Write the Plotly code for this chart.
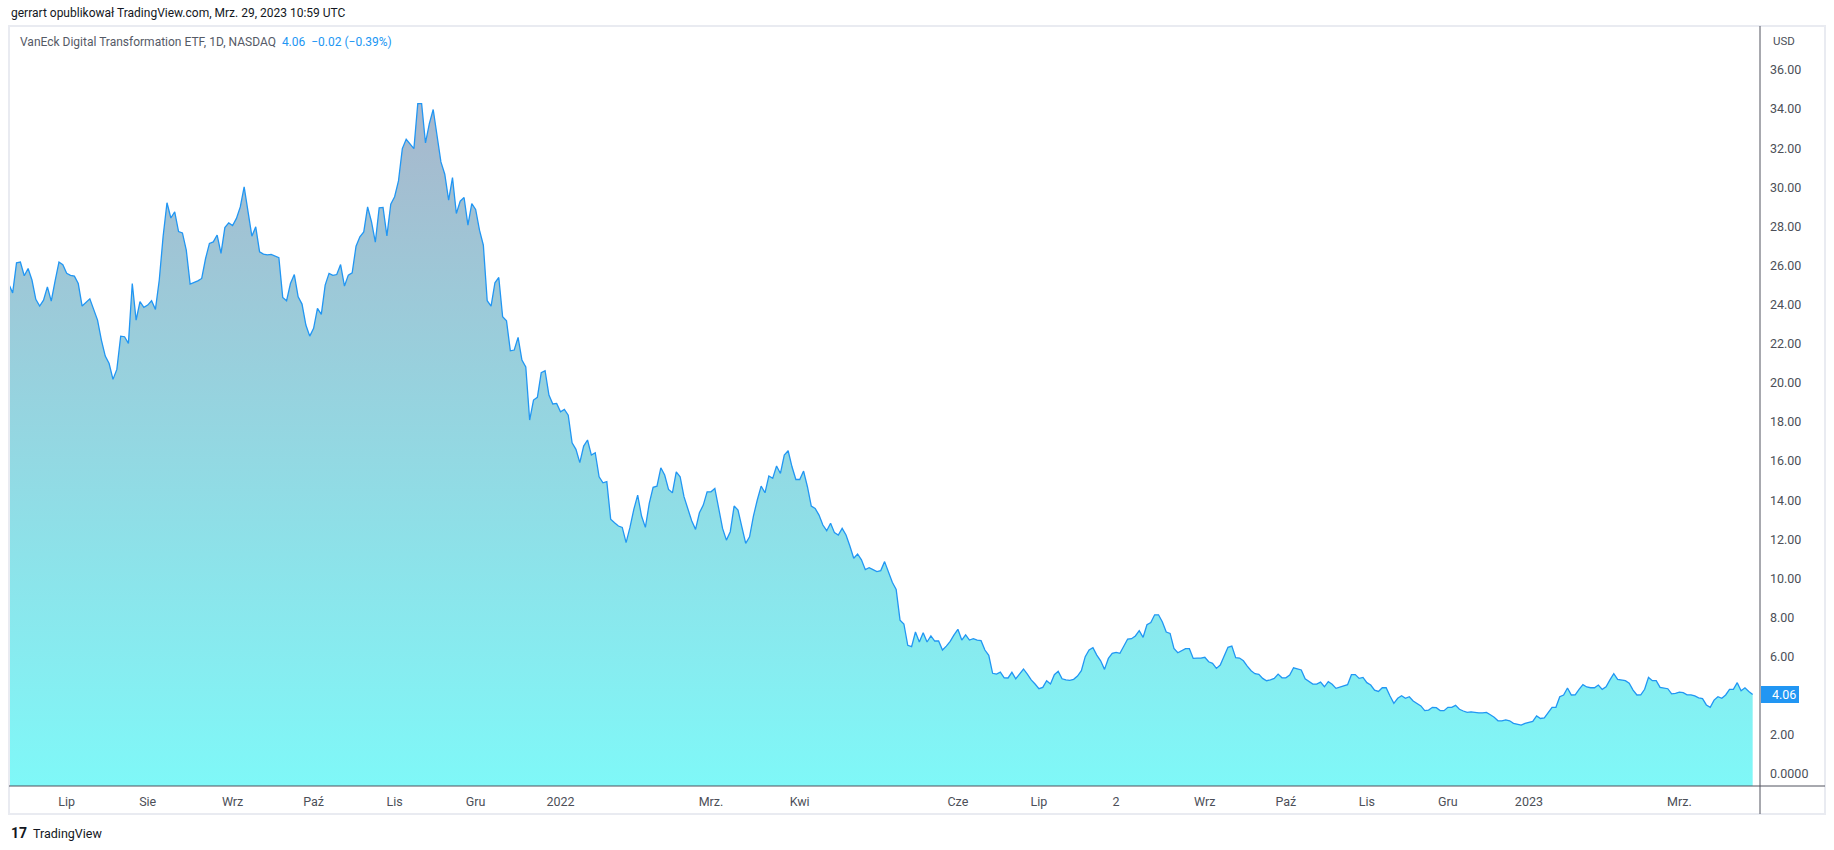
import pandas as pd
import plotly.graph_objects as go

# ---------------- data ----------------
# trading-day number since 2021-06-10 and closing price (USD)
day = [0, 1, 2, 3, 4, 5, 6, 7, 8, 9, 10, 11, 12, 13, 14, 15, 16, 17, 18, 19, 21, 22, 23, 24, 25, 26, 27, 28, 29,
       30, 31, 32, 33, 34, 35, 36, 37, 38, 39, 40, 41, 42, 43, 44, 45, 46, 47, 49, 50, 51, 52, 53, 54, 55, 56, 57,
       58, 59, 60, 61, 62, 63, 64, 65, 66, 67, 68, 69, 70, 71, 72, 73, 74, 75, 76, 77, 78, 79, 80, 81, 82, 83, 84,
       85, 86, 87, 88, 89, 90, 91, 92, 93, 94, 95, 96, 97, 98, 99, 100, 101, 102, 103, 104, 105, 106, 107, 108,
       109, 110, 111, 112, 113, 114, 115, 116, 117, 118, 119, 120, 121, 122, 123, 124, 125, 126, 127, 128, 129,
       130, 131, 132, 133, 134, 135, 136, 137, 138, 139, 140, 141, 142, 143, 144, 145, 146, 147, 148, 149, 150,
       151, 152, 153, 154, 155, 156, 157, 158, 159, 160, 161, 162, 163, 164, 165, 166, 167, 168, 169, 170, 171,
       172, 173, 174, 175, 176, 177, 178, 179, 180, 181, 182, 183, 184, 185, 186, 187, 188, 189, 190, 191, 192,
       193, 194, 195, 196, 197, 198, 199, 200, 201, 202, 203, 204, 205, 206, 207, 208, 209, 210, 211, 212, 213,
       214, 215, 216, 217, 218, 219, 220, 221, 222, 223, 224, 225, 226, 227, 229, 230, 231, 232, 233, 234, 235,
       236, 237, 238, 239, 240, 241, 242, 243, 244, 245, 246, 247, 248, 249, 250, 251, 252, 253, 254, 255, 256,
       257, 258, 259, 260, 261, 262, 263, 264, 265, 266, 267, 268, 269, 270, 271, 272, 273, 274, 275, 276, 277,
       278, 279, 280, 281, 282, 283, 284, 285, 286, 287, 288, 289, 290, 291, 292, 293, 294, 295, 296, 297, 298,
       299, 300, 301, 302, 303, 304, 305, 306, 307, 308, 309, 310, 311, 312, 313, 314, 315, 316, 317, 318, 319,
       320, 321, 322, 323, 324, 325, 326, 327, 328, 329, 330, 331, 332, 333, 334, 335, 336, 337, 338, 339, 340,
       341, 342, 343, 344, 346, 347, 348, 349, 350, 351, 352, 353, 354, 355, 356, 357, 358, 359, 360, 361, 362,
       363, 364, 365, 366, 367, 368, 369, 370, 371, 372, 373, 374, 375, 376, 377, 378, 379, 380, 381, 382, 383,
       384, 385, 386, 387, 388, 389, 390, 392, 393, 394, 395, 396, 397, 398, 399, 400, 401, 402, 403, 404, 405,
       406, 407, 408, 409, 410, 411, 412, 413, 414, 415, 416, 417, 418, 419, 420, 421, 422, 423, 424, 425, 426,
       427, 428, 429, 430, 431, 432, 433, 434, 435, 436, 437, 438, 439, 440, 441, 442, 443, 444, 445, 446, 447,
       448, 449, 450, 451, 452]

price = [25.05, 24.6, 26.14, 26.18, 25.48, 25.85, 25.26, 24.27, 23.93, 24.23, 24.91, 24.18, 25.22, 26.18, 26.04,
         25.6, 25.5, 25.46, 25.08, 23.93, 24.3, 23.72, 23.21, 22.19, 21.37, 20.99, 20.18, 20.69, 22.39, 22.36,
         22.02, 25.08, 23.21, 24.15, 23.86, 23.98, 24.2, 23.76, 25.26, 27.5, 29.21, 28.43, 28.75, 27.74, 27.67,
         26.79, 25.05, 25.22, 25.34, 26.36, 27.13, 27.21, 27.56, 26.62, 27.94, 28.18, 28.05, 28.41, 29.0, 30.02,
         28.66, 27.5, 27.98, 26.7, 26.59, 26.55, 26.57, 26.5, 26.4, 24.37, 24.2, 25.08, 25.54, 24.4, 24.03, 22.96,
         22.39, 22.79, 23.81, 23.5, 25.0, 25.6, 25.5, 25.54, 26.05, 24.95, 25.51, 25.63, 26.99, 27.47, 27.72,
         29.0, 28.24, 27.2, 28.95, 28.97, 27.52, 29.14, 29.52, 30.33, 31.98, 32.46, 32.24, 31.98, 34.28, 34.28,
         32.27, 33.26, 33.98, 32.75, 31.3, 30.67, 29.35, 30.5, 28.66, 29.29, 29.48, 28.07, 29.17, 28.87, 27.81,
         27.04, 24.2, 23.93, 25.12, 25.39, 23.38, 23.17, 21.64, 21.68, 22.33, 21.17, 20.82, 18.1, 19.12, 19.26,
         20.52, 20.62, 19.38, 18.92, 18.95, 18.52, 18.64, 18.35, 16.94, 16.6, 15.92, 16.77, 17.08, 16.31, 16.43,
         15.2, 14.89, 14.95, 13.03, 12.85, 12.68, 12.61, 11.83, 12.61, 13.53, 14.26, 13.19, 12.61, 13.84, 14.66,
         14.72, 15.66, 15.29, 14.55, 14.38, 15.45, 15.2, 14.18, 13.53, 12.95, 12.51, 13.36, 13.75, 14.43, 14.43,
         14.6, 13.58, 12.56, 11.96, 12.39, 13.7, 13.5, 12.64, 11.79, 12.13, 13.19, 14.01, 14.72, 14.38, 15.24,
         15.12, 15.75, 15.37, 16.31, 16.53, 15.71, 15.06, 15.06, 15.49, 14.69, 13.7, 13.58, 13.24, 12.73, 12.44,
         12.82, 12.34, 12.22, 12.56, 12.22, 11.66, 11.03, 11.25, 10.95, 10.45, 10.55, 10.45, 10.35, 10.4, 10.86,
         9.8, 9.44, 7.87, 7.67, 6.58, 6.51, 7.26, 6.75, 7.22, 6.75, 7.06, 6.8, 6.8, 6.34, 6.54, 6.78, 7.11, 7.4,
         6.85, 7.12, 6.85, 6.92, 6.85, 6.82, 6.34, 6.07, 5.15, 5.11, 5.21, 4.92, 4.91, 5.2, 4.87, 5.15, 5.37,
         5.11, 4.81, 4.6, 4.36, 4.43, 4.77, 4.6, 5.08, 5.25, 4.87, 4.81, 4.79, 4.84, 5.01, 5.28, 6.0, 6.34, 6.46,
         6.08, 5.79, 5.35, 5.91, 6.17, 6.22, 6.17, 6.54, 6.9, 6.92, 7.06, 7.33, 6.99, 7.63, 7.74, 8.14, 8.14,
         7.77, 7.26, 7.19, 6.42, 6.2, 6.3, 6.41, 6.41, 5.91, 5.93, 5.93, 5.97, 5.74, 5.66, 5.4, 5.57, 6.03, 6.48,
         6.54, 5.95, 5.93, 5.79, 5.52, 5.28, 5.13, 5.1, 4.89, 4.77, 4.81, 4.89, 5.11, 4.92, 4.92, 5.06, 5.43,
         5.37, 5.32, 4.87, 4.72, 4.6, 4.6, 4.7, 4.46, 4.72, 4.59, 4.38, 4.51, 4.57, 5.08, 5.08, 4.89, 4.94, 4.67,
         4.55, 4.29, 4.22, 4.41, 4.41, 3.99, 3.61, 3.87, 4.0, 3.87, 3.95, 3.73, 3.61, 3.48, 3.24, 3.27, 3.41,
         3.39, 3.24, 3.24, 3.41, 3.41, 3.51, 3.31, 3.22, 3.15, 3.18, 3.15, 3.13, 3.13, 3.15, 3.03, 2.9, 2.72,
         2.72, 2.77, 2.72, 2.59, 2.5, 2.59, 2.64, 2.69, 2.97, 2.84, 2.87, 3.15, 3.41, 3.41, 3.95, 4.04, 4.4,
         4.04, 4.05, 4.33, 4.57, 4.45, 4.41, 4.41, 4.55, 4.33, 4.46, 4.81, 5.13, 4.84, 4.81, 4.77, 4.64, 4.29,
         4.04, 4.05, 4.33, 4.94, 4.77, 4.77, 4.43, 4.38, 4.36, 4.1, 4.12, 4.19, 4.16, 4.05, 4.05, 3.99, 3.89,
         3.85, 3.53, 3.41, 3.78, 3.95, 3.87, 4.04, 4.33, 4.33, 4.67, 4.26, 4.41, 4.22, 4.06]

first_session = "2021-06-10"
last_session = "2023-03-28"
market_holidays = ["2021-07-05", "2021-09-06", "2021-11-25", "2021-12-24", "2022-01-17", "2022-02-21",
                   "2022-04-15", "2022-05-30", "2022-06-20", "2022-07-04", "2022-09-05", "2022-11-24",
                   "2022-12-26", "2023-01-02", "2023-01-16", "2023-02-20"]

tick_months = ["2021-07", "2021-08", "2021-09", "2021-10", "2021-11", "2021-12", "2022-01", "2022-03",
               "2022-04", "2022-06", "2022-07", "2022-08", "2022-09", "2022-10", "2022-11", "2022-12",
               "2023-01", "2023-03"]
tick_labels = ["Lip", "Sie", "Wrz", "Paź", "Lis", "Gru", "2022", "Mrz.", "Kwi", "Cze", "Lip", "2", "Wrz",
               "Paź", "Lis", "Gru", "2023", "Mrz."]

price_ticks = [0, 2, 4, 6, 8, 10, 12, 14, 16, 18, 20, 22, 24, 26, 28, 30, 32, 34, 36]
price_tick_labels = ["0.0000", "2.00", "4.00", "6.00", "8.00", "10.00", "12.00", "14.00", "16.00", "18.00",
                     "20.00", "22.00", "24.00", "26.00", "28.00", "30.00", "32.00", "34.00", "36.00"]

last_price = "4.06"
change_text = "\u22120.02 (\u22120.39%)"
title_text = "VanEck Digital Transformation ETF, 1D, NASDAQ"
header_text = "gerrart opublikował TradingView.com, Mrz. 29, 2023 10:59 UTC"

# ---------------- calendar / ticks ----------------
cal = pd.bdate_range(first_session, last_session)
cal = cal[~cal.isin(pd.to_datetime(market_holidays))]
month_keys = cal.strftime("%Y-%m")
tick_pos = [int((month_keys == m).argmax()) for m in tick_months]
dates = [cal[d].strftime("%Y-%m-%d") for d in day]

# ---------------- layout geometry (pixels) ----------------
W, H = 1834, 850
PL, PR, PT, PB = 9, 1760, 26, 786     # plot area
BOX_R, BOX_B = 1825, 814            # outer frame
Y_MIN, Y_MAX = -0.614, 38.25


def fx(px):
    return (px - PL) / (PR - PL)


def fy(py):
    return (PB - py) / (PB - PT)


BLUE = "#2196F3"
TXT = "#4C4F58"
FONT = "Roboto"

fig = go.Figure()
# invisible baseline at the bottom of the pane so that the area reaches the time axis
fig.add_trace(go.Scatter(
    x=day, y=[Y_MIN] * len(day), mode="lines", line=dict(width=0, color="rgba(0,0,0,0)"),
    hoverinfo="skip", showlegend=False,
))
fig.add_trace(go.Scatter(
    x=day, y=price, customdata=dates, mode="lines",
    line=dict(color=BLUE, width=1.3),
    fill="tonexty",
    fillgradient=dict(type="vertical", start=Y_MIN, stop=34.3,
                      colorscale=[[0, "rgb(127,248,248)"], [1, "rgb(168,183,204)"]]),
    hovertemplate="%{customdata}<br>%{y:.2f}<extra></extra>",
    showlegend=False,
))

shapes = [
    # outer frame
    dict(type="rect", xref="paper", yref="paper", x0=fx(PL), x1=fx(BOX_R), y0=fy(BOX_B), y1=fy(PT),
         line=dict(color="#E9EBF1", width=2), layer="above"),
    # price-axis separator
    dict(type="line", xref="paper", yref="paper", x0=fx(PR), x1=fx(PR), y0=fy(BOX_B), y1=fy(PT),
         line=dict(color="#50535E", width=1), layer="above"),
    # time-axis separator
    dict(type="line", xref="paper", yref="paper", x0=fx(PL), x1=fx(BOX_R), y0=0, y1=0,
         line=dict(color="#50535E", width=1), layer="above"),
    # last price label box
    dict(type="rect", xref="paper", yref="y", ysizemode="pixel", yanchor=float(last_price),
         x0=fx(PR + 1), x1=fx(PR + 39), y0=-8.5, y1=8.5, line=dict(width=0), fillcolor=BLUE, layer="above"),
]

annotations = [
    dict(text=header_text, xref="paper", yref="paper", x=fx(9), y=fy(13), xanchor="left", yanchor="middle",
         showarrow=False, font=dict(family=FONT, size=12, color="#131722")),
    dict(text=title_text + "\u00a0\u00a0<span style='color:%s'>%s\u00a0\u00a0%s</span>" % (BLUE, last_price, change_text),
         xref="paper", yref="paper", x=fx(18), y=fy(42), xanchor="left", yanchor="middle",
         showarrow=False, font=dict(family=FONT, size=12, color="#555A66")),
    dict(text="USD", xref="paper", yref="paper", x=fx(1771), y=fy(41), xanchor="left", yanchor="middle",
         showarrow=False, font=dict(family=FONT, size=11.5, color=TXT)),
    dict(text=last_price, xref="paper", yref="y", x=fx(1770), y=float(last_price), xanchor="left",
         yanchor="middle", showarrow=False, font=dict(family=FONT, size=12.5, color="white")),
    dict(text="<b>17</b>", xref="paper", yref="paper", x=fx(9), y=fy(833), xanchor="left", yanchor="middle",
         showarrow=False, font=dict(family=FONT, size=14, color="#131722")),
    dict(text="TradingView", xref="paper", yref="paper", x=fx(31), y=fy(833), xanchor="left", yanchor="middle",
         showarrow=False, font=dict(family=FONT, size=12.5, color="#131722")),
]

fig.update_layout(
    width=W, height=H,
    margin=dict(l=PL, r=W - PR, t=PT, b=H - PB, autoexpand=False),
    paper_bgcolor="white", plot_bgcolor="white",
    xaxis=dict(range=[0.05, 453.9], tickmode="array", tickvals=tick_pos, ticktext=tick_labels,
               showgrid=False, zeroline=False, showline=False, ticks="", ticklabelstandoff=6,
               tickfont=dict(family=FONT, size=12.5, color=TXT), fixedrange=True),
    yaxis=dict(side="right", range=[Y_MIN, Y_MAX], tickmode="array", tickvals=price_ticks,
               ticktext=price_tick_labels, showgrid=False, zeroline=False, showline=False, ticks="",
               ticklabelstandoff=9, tickfont=dict(family=FONT, size=12.5, color=TXT), fixedrange=True),
    shapes=shapes, annotations=annotations,
    hovermode="x",
)

fig.write_html("out.html", post_script="document.body.style.margin='0';")
